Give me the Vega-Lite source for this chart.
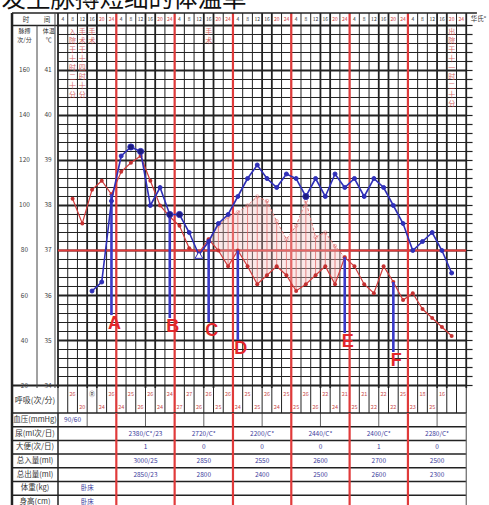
{
"$schema": "https://vega.github.io/schema/vega-lite/v6.json",
"padding": 0,
"bounds": "flush",
"spacing": 0,
"config": {"view": {"stroke": null}, "font": "Noto Sans CJK SC"},
"resolve": {"scale": {"x": "independent", "y": "independent"}},
"datasets": {
"横线": [{"P":20},{"P":24},{"P":28},{"P":32},{"P":36},{"P":40},{"P":44},{"P":48},{"P":52},{"P":56},{"P":60},{"P":64},{"P":68},{"P":72},{"P":76},{"P":80},{"P":84},{"P":88},{"P":92},{"P":96},{"P":100},{"P":104},{"P":108},{"P":112},{"P":116},{"P":120},{"P":124},{"P":128},{"P":132},{"P":136},{"P":140},{"P":144},{"P":148},{"P":152},{"P":156},{"P":160},{"P":164},{"P":168},{"P":172},{"P":176},{"P":180}],
"竖线": [{"b":-0.5},{"b":0.5},{"b":1.5},{"b":2.5},{"b":3.5},{"b":4.5},{"b":5.5},{"b":6.5},{"b":7.5},{"b":8.5},{"b":9.5},{"b":10.5},{"b":11.5},{"b":12.5},{"b":13.5},{"b":14.5},{"b":15.5},{"b":16.5},{"b":17.5},{"b":18.5},{"b":19.5},{"b":20.5},{"b":21.5},{"b":22.5},{"b":23.5},{"b":24.5},{"b":25.5},{"b":26.5},{"b":27.5},{"b":28.5},{"b":29.5},{"b":30.5},{"b":31.5},{"b":32.5},{"b":33.5},{"b":34.5},{"b":35.5},{"b":36.5},{"b":37.5},{"b":38.5},{"b":39.5},{"b":40.5},{"b":41.5}],
"时刻": [{"k":0,"时":"4"},{"k":1,"时":"8"},{"k":2,"时":"12"},{"k":3,"时":"16"},{"k":4,"时":"20"},{"k":5,"时":"24"},{"k":6,"时":"4"},{"k":7,"时":"8"},{"k":8,"时":"12"},{"k":9,"时":"16"},{"k":10,"时":"20"},{"k":11,"时":"24"},{"k":12,"时":"4"},{"k":13,"时":"8"},{"k":14,"时":"12"},{"k":15,"时":"16"},{"k":16,"时":"20"},{"k":17,"时":"24"},{"k":18,"时":"4"},{"k":19,"时":"8"},{"k":20,"时":"12"},{"k":21,"时":"16"},{"k":22,"时":"20"},{"k":23,"时":"24"},{"k":24,"时":"4"},{"k":25,"时":"8"},{"k":26,"时":"12"},{"k":27,"时":"16"},{"k":28,"时":"20"},{"k":29,"时":"24"},{"k":30,"时":"4"},{"k":31,"时":"8"},{"k":32,"时":"12"},{"k":33,"时":"16"},{"k":34,"时":"20"},{"k":35,"时":"24"},{"k":36,"时":"4"},{"k":37,"时":"8"},{"k":38,"时":"12"},{"k":39,"时":"16"},{"k":40,"时":"20"},{"k":41,"时":"24"}],
"刻度": [{"P":160,"脉搏刻度":"160","体温刻度":"41"},{"P":140,"脉搏刻度":"140","体温刻度":"40"},{"P":120,"脉搏刻度":"120","体温刻度":"39"},{"P":100,"脉搏刻度":"100","体温刻度":"38"},{"P":80,"脉搏刻度":"80","体温刻度":"37"},{"P":60,"脉搏刻度":"60","体温刻度":"36"},{"P":40,"脉搏刻度":"40","体温刻度":"35"},{"P":20,"脉搏刻度":"20","体温刻度":"34"}],
"注记": [{"k":1,"文":"入院于十时二十分"},{"k":2,"文":"手术于十四时十分"},{"k":3,"文":"手术"},{"k":15,"文":"手术"},{"k":40,"文":"出院于十一时二十分"}],
"脉搏": [{"k":1,"脉搏":103},{"k":2,"脉搏":92},{"k":3,"脉搏":107},{"k":4,"脉搏":111},{"k":5,"脉搏":105},{"k":6,"脉搏":115},{"k":7,"脉搏":119},{"k":8,"脉搏":122},{"k":9,"脉搏":111},{"k":10,"脉搏":100},{"k":11,"脉搏":95},{"k":12,"脉搏":91},{"k":13,"脉搏":81},{"k":14,"脉搏":79},{"k":15,"脉搏":85},{"k":16,"脉搏":80},{"k":17,"脉搏":73},{"k":18,"脉搏":80},{"k":19,"脉搏":73},{"k":20,"脉搏":65},{"k":21,"脉搏":69},{"k":22,"脉搏":73},{"k":23,"脉搏":69},{"k":24,"脉搏":62},{"k":25,"脉搏":65},{"k":26,"脉搏":69},{"k":27,"脉搏":73},{"k":28,"脉搏":65},{"k":29,"脉搏":77},{"k":30,"脉搏":73},{"k":31,"脉搏":65},{"k":32,"脉搏":61},{"k":33,"脉搏":73},{"k":34,"脉搏":66},{"k":35,"脉搏":58},{"k":36,"脉搏":61},{"k":37,"脉搏":54},{"k":38,"脉搏":50},{"k":39,"脉搏":46},{"k":40,"脉搏":42}],
"心率": [{"k":15,"心率":85,"脉搏":85},{"k":16,"心率":91,"脉搏":80},{"k":17,"心率":95,"脉搏":73},{"k":18,"心率":97,"脉搏":80},{"k":19,"心率":100,"脉搏":73},{"k":20,"心率":104,"脉搏":65},{"k":21,"心率":102,"脉搏":69},{"k":22,"心率":93,"脉搏":73},{"k":23,"心率":85,"脉搏":69},{"k":24,"心率":91,"脉搏":62},{"k":25,"心率":102,"脉搏":65},{"k":26,"心率":86,"脉搏":69},{"k":27,"心率":88,"脉搏":73},{"k":28,"心率":82,"脉搏":65},{"k":29,"心率":77,"脉搏":77}],
"体温": [{"k":3,"体温":36.1,"类型":"常规"},{"k":4,"体温":36.3,"类型":"常规"},{"k":5,"体温":38.1,"类型":"常规"},{"k":6,"体温":39.1,"类型":"常规"},{"k":7,"体温":39.3,"类型":"重合"},{"k":8,"体温":39.2,"类型":"重合"},{"k":9,"体温":38.0,"类型":"常规"},{"k":10,"体温":38.4,"类型":"常规"},{"k":11,"体温":37.8,"类型":"重合"},{"k":12,"体温":37.8,"类型":"重合"},{"k":13,"体温":37.4,"类型":"常规"},{"k":14,"体温":36.9,"类型":"标记"},{"k":15,"体温":37.2,"类型":"常规"},{"k":16,"体温":37.6,"类型":"常规"},{"k":17,"体温":37.8,"类型":"常规"},{"k":18,"体温":38.2,"类型":"常规"},{"k":19,"体温":38.6,"类型":"常规"},{"k":20,"体温":38.9,"类型":"常规"},{"k":21,"体温":38.6,"类型":"常规"},{"k":22,"体温":38.4,"类型":"常规"},{"k":23,"体温":38.7,"类型":"常规"},{"k":24,"体温":38.6,"类型":"常规"},{"k":25,"体温":38.2,"类型":"重合"},{"k":26,"体温":38.6,"类型":"常规"},{"k":27,"体温":38.2,"类型":"常规"},{"k":28,"体温":38.7,"类型":"常规"},{"k":29,"体温":38.4,"类型":"常规"},{"k":30,"体温":38.6,"类型":"常规"},{"k":31,"体温":38.2,"类型":"常规"},{"k":32,"体温":38.6,"类型":"常规"},{"k":33,"体温":38.4,"类型":"常规"},{"k":34,"体温":38.0,"类型":"常规"},{"k":35,"体温":37.6,"类型":"常规"},{"k":36,"体温":37.0,"类型":"常规"},{"k":37,"体温":37.2,"类型":"常规"},{"k":38,"体温":37.4,"类型":"常规"},{"k":39,"体温":37.0,"类型":"常规"},{"k":40,"体温":36.5,"类型":"常规"}],
"降温线": [{"k":5,"起":105,"止":51.3,"标注":"A"},{"k":11,"起":95.5,"止":50.0,"标注":"B"},{"k":15,"起":85,"止":48.2,"标注":"C"},{"k":18,"起":80,"止":40.2,"标注":"D"},{"k":29,"起":77,"止":43.3,"标注":"E"},{"k":34,"起":66,"止":34.9,"标注":"F"}],
"呼吸": [{"k":1,"次":"26"},{"k":2,"次":"20"},{"k":3,"次":"Ⓡ"},{"k":4,"次":"24"},{"k":5,"次":"26"},{"k":6,"次":"24"},{"k":7,"次":"25"},{"k":8,"次":"26"},{"k":9,"次":"26"},{"k":10,"次":"24"},{"k":11,"次":"24"},{"k":12,"次":"27"},{"k":13,"次":"27"},{"k":14,"次":"26"},{"k":15,"次":"26"},{"k":16,"次":"25"},{"k":17,"次":"26"},{"k":18,"次":"24"},{"k":19,"次":"25"},{"k":20,"次":"25"},{"k":21,"次":"26"},{"k":22,"次":"24"},{"k":23,"次":"25"},{"k":24,"次":"25"},{"k":25,"次":"26"},{"k":26,"次":"26"},{"k":27,"次":"22"},{"k":28,"次":"24"},{"k":29,"次":"21"},{"k":30,"次":"25"},{"k":31,"次":"21"},{"k":32,"次":"22"},{"k":33,"次":"22"},{"k":34,"次":"22"},{"k":35,"次":"25"},{"k":36,"次":"23"},{"k":37,"次":"18"},{"k":38,"次":"25"},{"k":39,"次":"16"}],
"项目表": [{"项目":"血压(mmHg)"},{"项目":"尿(ml次/日)"},{"项目":"大便(次/日)"},{"项目":"总入量(ml)"},{"项目":"总出量(ml)"},{"项目":"体重(kg)"},{"项目":"身高(cm)"}],
"日期": [{"日":1},{"日":2},{"日":3},{"日":4},{"日":5},{"日":6},{"日":7}],
"表值": [{"项目":"血压(mmHg)","日":1,"时段":"上午","值":"90/60"},
{"项目":"尿(ml次/日)","日":2,"时段":"全天","值":"2380/C*/23"},{"项目":"尿(ml次/日)","日":3,"时段":"全天","值":"2720/C*"},{"项目":"尿(ml次/日)","日":4,"时段":"全天","值":"2200/C*"},{"项目":"尿(ml次/日)","日":5,"时段":"全天","值":"2440/C*"},{"项目":"尿(ml次/日)","日":6,"时段":"全天","值":"2400/C*"},{"项目":"尿(ml次/日)","日":7,"时段":"全天","值":"2280/C*"},
{"项目":"大便(次/日)","日":2,"时段":"全天","值":"1"},{"项目":"大便(次/日)","日":3,"时段":"全天","值":"0"},{"项目":"大便(次/日)","日":4,"时段":"全天","值":"0"},{"项目":"大便(次/日)","日":5,"时段":"全天","值":"0"},{"项目":"大便(次/日)","日":6,"时段":"全天","值":"1"},{"项目":"大便(次/日)","日":7,"时段":"全天","值":"0"},
{"项目":"总入量(ml)","日":2,"时段":"全天","值":"3000/25"},{"项目":"总入量(ml)","日":3,"时段":"全天","值":"2850"},{"项目":"总入量(ml)","日":4,"时段":"全天","值":"2550"},{"项目":"总入量(ml)","日":5,"时段":"全天","值":"2600"},{"项目":"总入量(ml)","日":6,"时段":"全天","值":"2700"},{"项目":"总入量(ml)","日":7,"时段":"全天","值":"2500"},
{"项目":"总出量(ml)","日":2,"时段":"全天","值":"2850/23"},{"项目":"总出量(ml)","日":3,"时段":"全天","值":"2800"},{"项目":"总出量(ml)","日":4,"时段":"全天","值":"2400"},{"项目":"总出量(ml)","日":5,"时段":"全天","值":"2500"},{"项目":"总出量(ml)","日":6,"时段":"全天","值":"2600"},{"项目":"总出量(ml)","日":7,"时段":"全天","值":"2300"},
{"项目":"体重(kg)","日":1,"时段":"全天","值":"卧床"},{"项目":"身高(cm)","日":1,"时段":"全天","值":"卧床"}]
},
"vconcat": [
{
"width": 489, "height": 388,
"data": {"values": [{}]},
"resolve": {"scale": {"y": "independent"}},
"layer": [
{"mark": {"type": "text", "align": "left", "baseline": "bottom", "fontSize": 24.5, "color": "#111111", "clip": true},
 "encoding": {"x": {"datum": -6.3, "type": "quantitative", "scale": {"domain": [-6.467, 43.842], "nice": false, "zero": false}, "axis": null},
  "y": {"datum": 186.0, "type": "quantitative", "scale": {"domain": [18.89, 191.33], "nice": false, "zero": false}, "axis": null},
  "text": {"value": "发生脉搏短绌的体温单"}}},
{"data": {"name": "横线"}, "mark": {"type": "rule", "color": "#222222"},
 "encoding": {"x": {"datum": -0.5, "type": "quantitative", "scale": {"domain": [-6.467, 43.842], "nice": false, "zero": false}, "axis": null}, "x2": {"datum": 41.5},
  "y": {"field": "P", "type": "quantitative", "scale": {"domain": [18.89, 191.33], "nice": false, "zero": false}, "axis": null},
  "strokeWidth": {"condition": {"test": "datum.P % 20 === 0", "value": 2}, "value": 1}}},
{"data": {"name": "竖线"}, "mark": {"type": "rule", "color": "#222222"},
 "encoding": {"x": {"field": "b", "type": "quantitative", "scale": {"domain": [-6.467, 43.842], "nice": false, "zero": false}, "axis": null},
  "y": {"datum": 185.55, "type": "quantitative", "scale": {"domain": [18.89, 191.33], "nice": false, "zero": false}, "axis": null}, "y2": {"datum": 18.89},
  "strokeWidth": {"condition": {"test": "datum.b === -0.5 || datum.b === 41.5 || (datum.b + 0.5) % 6 === 3 || (datum.b + 0.5) % 6 === 4", "value": 1.8}, "value": 1}}},
{"mark": {"type": "rule", "color": "#e03a3a", "strokeWidth": 2},
 "encoding": {"x": {"datum": -0.5, "type": "quantitative", "scale": {"domain": [-6.467, 43.842], "nice": false, "zero": false}, "axis": null}, "x2": {"datum": 41.5},
  "y": {"datum": 80, "type": "quantitative", "scale": {"domain": [18.89, 191.33], "nice": false, "zero": false}, "axis": null}}},
{"data": {"name": "竖线"}, "transform": [{"filter": "datum.b > 0 && datum.b < 41 && (datum.b + 0.5) % 6 === 0"}],
 "mark": {"type": "rule", "color": "#e03a3a", "strokeWidth": 2.2},
 "encoding": {"x": {"field": "b", "type": "quantitative", "scale": {"domain": [-6.467, 43.842], "nice": false, "zero": false}, "axis": null},
  "y": {"datum": 185.55, "type": "quantitative", "scale": {"domain": [18.89, 191.33], "nice": false, "zero": false}, "axis": null}, "y2": {"datum": 18.89}}},
{"mark": {"type": "rule", "color": "#222222", "strokeWidth": 1.6},
 "encoding": {"x": {"datum": -5.23, "type": "quantitative", "scale": {"domain": [-6.467, 43.842], "nice": false, "zero": false}, "axis": null}, "x2": {"datum": 42.6},
  "y": {"datum": 185.55, "type": "quantitative", "scale": {"domain": [18.89, 191.33], "nice": false, "zero": false}, "axis": null}}},
{"mark": {"type": "rule", "color": "#222222", "strokeWidth": 1.6},
 "encoding": {"x": {"datum": -5.23, "type": "quantitative", "scale": {"domain": [-6.467, 43.842], "nice": false, "zero": false}, "axis": null}, "x2": {"datum": -0.5},
  "y": {"datum": 180, "type": "quantitative", "scale": {"domain": [18.89, 191.33], "nice": false, "zero": false}, "axis": null}}},
{"mark": {"type": "rule", "color": "#222222", "strokeWidth": 2},
 "encoding": {"x": {"datum": -5.23, "type": "quantitative", "scale": {"domain": [-6.467, 43.842], "nice": false, "zero": false}, "axis": null}, "x2": {"datum": -0.5},
  "y": {"datum": 20, "type": "quantitative", "scale": {"domain": [18.89, 191.33], "nice": false, "zero": false}, "axis": null}}},
{"mark": {"type": "rule", "color": "#222222", "strokeWidth": 2.5},
 "encoding": {"x": {"datum": -5.23, "type": "quantitative", "scale": {"domain": [-6.467, 43.842], "nice": false, "zero": false}, "axis": null},
  "y": {"datum": 185.55, "type": "quantitative", "scale": {"domain": [18.89, 191.33], "nice": false, "zero": false}, "axis": null}, "y2": {"datum": 18.89}}},
{"mark": {"type": "rule", "color": "#444444", "strokeWidth": 1},
 "encoding": {"x": {"datum": -2.66, "type": "quantitative", "scale": {"domain": [-6.467, 43.842], "nice": false, "zero": false}, "axis": null},
  "y": {"datum": 180, "type": "quantitative", "scale": {"domain": [18.89, 191.33], "nice": false, "zero": false}, "axis": null}, "y2": {"datum": 18.89}}},
{"mark": {"type": "rule", "color": "#444444", "strokeWidth": 1},
 "encoding": {"x": {"datum": -0.81, "type": "quantitative", "scale": {"domain": [-6.467, 43.842], "nice": false, "zero": false}, "axis": null},
  "y": {"datum": 185.55, "type": "quantitative", "scale": {"domain": [18.89, 191.33], "nice": false, "zero": false}, "axis": null}, "y2": {"datum": 18.89}}},
{"data": {"name": "时刻"}, "mark": {"type": "text", "fontSize": 5, "baseline": "middle"},
 "encoding": {"x": {"field": "k", "type": "quantitative", "scale": {"domain": [-6.467, 43.842], "nice": false, "zero": false}, "axis": null},
  "y": {"datum": 183.1, "type": "quantitative", "scale": {"domain": [18.89, 191.33], "nice": false, "zero": false}, "axis": null},
  "text": {"field": "时"},
  "color": {"condition": {"test": "datum['时'] === '20' || datum['时'] === '24'", "value": "#d04040"}, "value": "#333333"}}},
{"mark": {"type": "text", "fontSize": 6.5, "baseline": "middle", "color": "#333333"},
 "encoding": {"x": {"datum": -3.79, "type": "quantitative", "scale": {"domain": [-6.467, 43.842], "nice": false, "zero": false}, "axis": null},
  "y": {"datum": 182.45, "type": "quantitative", "scale": {"domain": [18.89, 191.33], "nice": false, "zero": false}, "axis": null},
  "text": {"value": "时"}}},
{"mark": {"type": "text", "fontSize": 6.5, "baseline": "middle", "color": "#333333"},
 "encoding": {"x": {"datum": -1.63, "type": "quantitative", "scale": {"domain": [-6.467, 43.842], "nice": false, "zero": false}, "axis": null},
  "y": {"datum": 182.45, "type": "quantitative", "scale": {"domain": [18.89, 191.33], "nice": false, "zero": false}, "axis": null},
  "text": {"value": "间"}}},
{"mark": {"type": "text", "fontSize": 6, "baseline": "middle", "color": "#333333"},
 "encoding": {"x": {"datum": -3.95, "type": "quantitative", "scale": {"domain": [-6.467, 43.842], "nice": false, "zero": false}, "axis": null},
  "y": {"datum": 177.7, "type": "quantitative", "scale": {"domain": [18.89, 191.33], "nice": false, "zero": false}, "axis": null},
  "text": {"value": "脉搏"}}},
{"mark": {"type": "text", "fontSize": 6, "baseline": "middle", "color": "#333333"},
 "encoding": {"x": {"datum": -3.95, "type": "quantitative", "scale": {"domain": [-6.467, 43.842], "nice": false, "zero": false}, "axis": null},
  "y": {"datum": 173.5, "type": "quantitative", "scale": {"domain": [18.89, 191.33], "nice": false, "zero": false}, "axis": null},
  "text": {"value": "次/分"}}},
{"mark": {"type": "text", "fontSize": 6, "baseline": "middle", "color": "#333333"},
 "encoding": {"x": {"datum": -1.45, "type": "quantitative", "scale": {"domain": [-6.467, 43.842], "nice": false, "zero": false}, "axis": null},
  "y": {"datum": 177.7, "type": "quantitative", "scale": {"domain": [18.89, 191.33], "nice": false, "zero": false}, "axis": null},
  "text": {"value": "体温"}}},
{"mark": {"type": "text", "fontSize": 6, "baseline": "middle", "color": "#333333"},
 "encoding": {"x": {"datum": -1.45, "type": "quantitative", "scale": {"domain": [-6.467, 43.842], "nice": false, "zero": false}, "axis": null},
  "y": {"datum": 173.5, "type": "quantitative", "scale": {"domain": [18.89, 191.33], "nice": false, "zero": false}, "axis": null},
  "text": {"value": "℃"}}},
{"data": {"name": "刻度"}, "mark": {"type": "text", "fontSize": 6.5, "baseline": "middle", "color": "#444444"},
 "encoding": {"x": {"datum": -3.95, "type": "quantitative", "scale": {"domain": [-6.467, 43.842], "nice": false, "zero": false}, "axis": null},
  "y": {"field": "P", "type": "quantitative", "scale": {"domain": [18.89, 191.33], "nice": false, "zero": false}, "axis": null},
  "text": {"field": "脉搏刻度"}}},
{"data": {"name": "刻度"}, "mark": {"type": "text", "fontSize": 6.5, "baseline": "middle", "color": "#444444"},
 "encoding": {"x": {"datum": -1.53, "type": "quantitative", "scale": {"domain": [-6.467, 43.842], "nice": false, "zero": false}, "axis": null},
  "y": {"field": "P", "type": "quantitative", "scale": {"domain": [18.89, 191.33], "nice": false, "zero": false}, "axis": null},
  "text": {"field": "体温刻度"}}},
{"data": {"name": "注记"}, "transform": [{"calculate": "join(split(datum['文'], ''), '\\n')", "as": "竖排"}],
 "mark": {"type": "text", "fontSize": 7, "baseline": "top", "lineHeight": 9, "lineBreak": "\n", "color": "#d05050", "opacity": 0.85},
 "encoding": {"x": {"field": "k", "type": "quantitative", "scale": {"domain": [-6.467, 43.842], "nice": false, "zero": false}, "axis": null},
  "y": {"datum": 179.0, "type": "quantitative", "scale": {"domain": [18.89, 191.33], "nice": false, "zero": false}, "axis": null},
  "text": {"field": "竖排"}}},
{"data": {"name": "心率"}, "mark": {"type": "area", "color": "#f2bcbc", "opacity": 0.35},
 "encoding": {"x": {"field": "k", "type": "quantitative", "scale": {"domain": [-6.467, 43.842], "nice": false, "zero": false}, "axis": null},
  "y": {"field": "脉搏", "type": "quantitative", "scale": {"domain": [18.89, 191.33], "nice": false, "zero": false}, "axis": null}, "y2": {"field": "心率"}}},
{"data": {"name": "心率"}, "mark": {"type": "rule", "color": "#e06a6a", "strokeWidth": 0.8},
 "encoding": {"x": {"field": "k", "type": "quantitative", "scale": {"domain": [-6.467, 43.842], "nice": false, "zero": false}, "axis": null},
  "y": {"field": "脉搏", "type": "quantitative", "scale": {"domain": [18.89, 191.33], "nice": false, "zero": false}, "axis": null}, "y2": {"field": "心率"}}},
{"data": {"name": "心率"}, "mark": {"type": "line", "color": "#e07878", "strokeWidth": 1, "strokeDash": [3, 2]},
 "encoding": {"x": {"field": "k", "type": "quantitative", "scale": {"domain": [-6.467, 43.842], "nice": false, "zero": false}, "axis": null},
  "y": {"field": "心率", "type": "quantitative", "scale": {"domain": [18.89, 191.33], "nice": false, "zero": false}, "axis": null}}},
{"data": {"name": "心率"}, "mark": {"type": "point", "color": "#e07878", "size": 12, "strokeWidth": 0.8},
 "encoding": {"x": {"field": "k", "type": "quantitative", "scale": {"domain": [-6.467, 43.842], "nice": false, "zero": false}, "axis": null},
  "y": {"field": "心率", "type": "quantitative", "scale": {"domain": [18.89, 191.33], "nice": false, "zero": false}, "axis": null}}},
{"data": {"name": "脉搏"}, "mark": {"type": "line", "color": "#d23c3c", "strokeWidth": 1.2, "point": {"filled": true, "size": 16, "color": "#c43030"}},
 "encoding": {"x": {"field": "k", "type": "quantitative", "scale": {"domain": [-6.467, 43.842], "nice": false, "zero": false}, "axis": null},
  "y": {"field": "脉搏", "type": "quantitative", "scale": {"domain": [18.89, 191.33], "nice": false, "zero": false}, "axis": null}}},
{"data": {"name": "降温线"}, "mark": {"type": "rule", "color": "#3a3ac8", "strokeWidth": 2.6},
 "encoding": {"x": {"field": "k", "type": "quantitative", "scale": {"domain": [-6.467, 43.842], "nice": false, "zero": false}, "axis": null},
  "y": {"field": "起", "type": "quantitative", "scale": {"domain": [18.89, 191.33], "nice": false, "zero": false}, "axis": null}, "y2": {"field": "止"}}},
{"data": {"name": "降温线"}, "mark": {"type": "text", "font": "Liberation Sans", "fontSize": 18, "fontWeight": "bold", "color": "#e3262a", "baseline": "top", "dx": 3},
 "encoding": {"x": {"field": "k", "type": "quantitative", "scale": {"domain": [-6.467, 43.842], "nice": false, "zero": false}, "axis": null},
  "y": {"field": "止", "type": "quantitative", "scale": {"domain": [18.89, 191.33], "nice": false, "zero": false}, "axis": null},
  "text": {"field": "标注"}}},
{"data": {"name": "体温"}, "mark": {"type": "line", "color": "#2f2fb8", "strokeWidth": 1.6},
 "encoding": {"x": {"field": "k", "type": "quantitative", "scale": {"domain": [-6.467, 43.842], "nice": false, "zero": false}, "axis": null},
  "y": {"field": "体温", "type": "quantitative", "scale": {"domain": [33.9445, 42.5665], "nice": false, "zero": false}, "axis": null}}},
{"data": {"name": "体温"}, "mark": {"type": "point", "filled": true, "stroke": "#2f2fb8", "strokeWidth": 1, "opacity": 1},
 "encoding": {"x": {"field": "k", "type": "quantitative", "scale": {"domain": [-6.467, 43.842], "nice": false, "zero": false}, "axis": null},
  "y": {"field": "体温", "type": "quantitative", "scale": {"domain": [33.9445, 42.5665], "nice": false, "zero": false}, "axis": null},
  "shape": {"field": "类型", "type": "nominal", "scale": {"domain": ["常规", "重合", "标记"], "range": ["circle", "circle", "triangle-up"]}, "legend": null},
  "size": {"field": "类型", "type": "nominal", "scale": {"domain": ["常规", "重合", "标记"], "range": [16, 60, 45]}, "legend": null},
  "fill": {"field": "类型", "type": "nominal", "scale": {"domain": ["常规", "重合", "标记"], "range": ["#2f2fb8", "#1c1c80", "#ffffff"]}, "legend": null}}},
{"data": {"name": "横线"}, "mark": {"type": "rule", "color": "#222222", "strokeWidth": 1.2},
 "encoding": {"x": {"datum": 41.5, "type": "quantitative", "scale": {"domain": [-6.467, 43.842], "nice": false, "zero": false}, "axis": null}, "x2": {"datum": 42.15},
  "y": {"field": "P", "type": "quantitative", "scale": {"domain": [18.89, 191.33], "nice": false, "zero": false}, "axis": null}}},
{"mark": {"type": "text", "fontSize": 6.5, "baseline": "middle", "color": "#333333"},
 "encoding": {"x": {"datum": 42.75, "type": "quantitative", "scale": {"domain": [-6.467, 43.842], "nice": false, "zero": false}, "axis": null},
  "y": {"datum": 183.1, "type": "quantitative", "scale": {"domain": [18.89, 191.33], "nice": false, "zero": false}, "axis": null},
  "text": {"value": "华氏°"}}}
]
},
{
"width": 489, "height": 25,
"data": {"values": [{}]},
"layer": [
{"data": {"name": "竖线"}, "mark": {"type": "rule", "color": "#222222", "strokeWidth": 1},
 "encoding": {"x": {"field": "b", "type": "quantitative", "scale": {"domain": [-6.467, 43.842], "nice": false, "zero": false}, "axis": null}}},
{"data": {"name": "竖线"}, "transform": [{"filter": "datum.b > 0 && datum.b < 41 && (datum.b + 0.5) % 6 === 0"}],
 "mark": {"type": "rule", "color": "#e03a3a", "strokeWidth": 2.2},
 "encoding": {"x": {"field": "b", "type": "quantitative", "scale": {"domain": [-6.467, 43.842], "nice": false, "zero": false}, "axis": null}}},
{"mark": {"type": "rule", "color": "#222222", "strokeWidth": 2.5},
 "encoding": {"x": {"datum": -5.23, "type": "quantitative", "scale": {"domain": [-6.467, 43.842], "nice": false, "zero": false}, "axis": null}}},
{"mark": {"type": "text", "fontSize": 8, "color": "#333333", "baseline": "middle"},
 "encoding": {"x": {"datum": -2.87, "type": "quantitative", "scale": {"domain": [-6.467, 43.842], "nice": false, "zero": false}, "axis": null},
  "text": {"value": "呼吸(次/分)"}}},
{"data": {"name": "呼吸"}, "transform": [{"calculate": "datum.k % 2 === 1 ? '上' : '下'", "as": "层"}],
 "mark": {"type": "text", "fontSize": 5.5, "baseline": "middle"},
 "encoding": {"x": {"field": "k", "type": "quantitative", "scale": {"domain": [-6.467, 43.842], "nice": false, "zero": false}, "axis": null},
  "y": {"field": "层", "type": "nominal", "scale": {"type": "band", "domain": ["上", "下"], "paddingInner": 0, "paddingOuter": 0}, "axis": null},
  "text": {"field": "次"},
  "color": {"condition": {"test": "datum['次'] === 'Ⓡ'", "value": "#222222"}, "value": "#c84a4a"}}}
]
},
{
"width": 489, "height": 92,
"data": {"values": [{}]},
"layer": [
{"data": {"name": "项目表"}, "mark": {"type": "rule", "color": "#222222", "strokeWidth": 1.5},
 "encoding": {"x": {"datum": -0.289, "type": "quantitative", "scale": {"domain": [-0.4945, 7.89], "nice": false, "zero": false}, "axis": null}, "x2": {"datum": 7.5},
  "y": {"field": "项目", "type": "nominal", "bandPosition": 0, "scale": {"type": "band", "domain": ["血压(mmHg)", "尿(ml次/日)", "大便(次/日)", "总入量(ml)", "总出量(ml)", "体重(kg)", "身高(cm)"], "range": [0, 95.9], "paddingInner": 0, "paddingOuter": 0}, "axis": null}}},
{"mark": {"type": "rule", "color": "#222222", "strokeWidth": 2.5},
 "encoding": {"x": {"datum": -0.289, "type": "quantitative", "scale": {"domain": [-0.4945, 7.89], "nice": false, "zero": false}, "axis": null}}},
{"mark": {"type": "rule", "color": "#222222", "strokeWidth": 1.5},
 "encoding": {"x": {"datum": 0.5, "type": "quantitative", "scale": {"domain": [-0.4945, 7.89], "nice": false, "zero": false}, "axis": null}}},
{"mark": {"type": "rule", "color": "#666666", "strokeWidth": 1.2},
 "encoding": {"x": {"datum": 7.5, "type": "quantitative", "scale": {"domain": [-0.4945, 7.89], "nice": false, "zero": false}, "axis": null}}},
{"data": {"name": "日期"}, "transform": [{"filter": "datum['日'] < 7"}, {"calculate": "datum['日'] + 0.5", "as": "界"}],
 "mark": {"type": "rule", "color": "#e03a3a", "strokeWidth": 2.2},
 "encoding": {"x": {"field": "界", "type": "quantitative", "scale": {"domain": [-0.4945, 7.89], "nice": false, "zero": false}, "axis": null}}},
{"data": {"name": "日期"}, "mark": {"type": "tick", "color": "#222222", "thickness": 1, "size": 13.7},
 "encoding": {"x": {"field": "日", "type": "quantitative", "scale": {"domain": [-0.4945, 7.89], "nice": false, "zero": false}, "axis": null},
  "y": {"datum": "血压(mmHg)", "type": "nominal", "scale": {"type": "band", "domain": ["血压(mmHg)", "尿(ml次/日)", "大便(次/日)", "总入量(ml)", "总出量(ml)", "体重(kg)", "身高(cm)"], "range": [0, 95.9], "paddingInner": 0, "paddingOuter": 0}, "axis": null}}},
{"data": {"name": "项目表"}, "mark": {"type": "text", "fontSize": 7.5, "color": "#333333", "baseline": "middle", "clip": true},
 "encoding": {"x": {"datum": 0.106, "type": "quantitative", "scale": {"domain": [-0.4945, 7.89], "nice": false, "zero": false}, "axis": null},
  "y": {"field": "项目", "type": "nominal", "scale": {"type": "band", "domain": ["血压(mmHg)", "尿(ml次/日)", "大便(次/日)", "总入量(ml)", "总出量(ml)", "体重(kg)", "身高(cm)"], "range": [0, 95.9], "paddingInner": 0, "paddingOuter": 0}, "axis": null},
  "text": {"field": "项目"}}},
{"data": {"name": "表值"}, "transform": [{"calculate": "datum['日'] + (datum['时段'] === '上午' ? -0.25 : (datum['时段'] === '下午' ? 0.25 : 0))", "as": "位"}],
 "mark": {"type": "text", "fontSize": 6.5, "color": "#3c3c9c", "baseline": "middle", "clip": true},
 "encoding": {"x": {"field": "位", "type": "quantitative", "scale": {"domain": [-0.4945, 7.89], "nice": false, "zero": false}, "axis": null},
  "y": {"field": "项目", "type": "nominal", "scale": {"type": "band", "domain": ["血压(mmHg)", "尿(ml次/日)", "大便(次/日)", "总入量(ml)", "总出量(ml)", "体重(kg)", "身高(cm)"], "range": [0, 95.9], "paddingInner": 0, "paddingOuter": 0}, "axis": null},
  "text": {"field": "值"}}}
]
}
]
}
